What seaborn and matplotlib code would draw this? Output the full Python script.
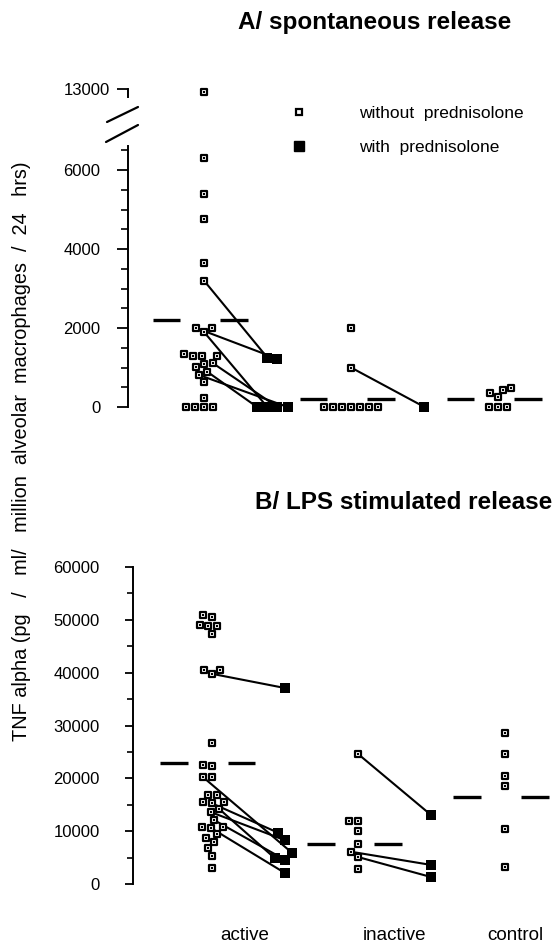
import numpy as np
import pandas as pd
import matplotlib.pyplot as plt
import seaborn as sns
from matplotlib.lines import Line2D
from matplotlib.ticker import MultipleLocator

sns.set_style("ticks")
plt.rcParams["font.family"] = ["Liberation Sans", "DejaVu Sans"]
plt.rcParams["text.color"] = "black"
plt.rcParams["axes.edgecolor"] = "black"

# columns of the dot plot: untreated / with prednisolone per group
columns = ["active", "active_pred", "inactive", "inactive_pred", "control"]
group_labels = ["active", "inactive", "control"]

# A/ spontaneous release
a_active = [12900, 6300, 5400, 4750, 3650, 3200, 2000, 2000, 1900, 1330, 1300, 1300,
            1300, 1110, 1090, 1010, 890, 810, 630, 230, 0, 0, 0, 0]
a_active_pred = [1250, 1220, 0, 0, 0, 0]
a_inactive = [2000, 1000, 0, 0, 0, 0, 0, 0, 0]
a_inactive_pred = [0]
a_control = [250, 350, 430, 480, 0, 0, 0]
a_pairs_active = [(3200, 1250), (2000, 1220), (1900, 0), (1110, 0), (890, 0), (810, 0)]
a_pairs_inactive = [(1000, 0)]
a_means = [2200, 200, 200]

# B/ LPS stimulated release
b_active = [50900, 50600, 49000, 48800, 48800, 47300, 40500, 40500, 39800, 26700, 22500,
            22300, 20300, 20300, 16800, 16800, 15500, 15500, 15300, 14200, 13600, 12100,
            10800, 10800, 10600, 9500, 8700, 8000, 6800, 5300, 3000]
b_active_pred = [37100, 9700, 8300, 5900, 4900, 4600, 2100]
b_inactive = [24600, 11900, 11900, 10000, 7600, 6100, 5100, 2800]
b_inactive_pred = [13000, 3600, 1300]
b_control = [28600, 24600, 20400, 18500, 10400, 3200]
b_pairs_active = [(39800, 37100), (20300, 5900), (15300, 9700), (14200, 4900),
                  (13600, 8300), (12100, 4600), (10600, 2100)]
b_pairs_inactive = [(24600, 13000), (6100, 3600), (5100, 1300)]
b_means = [22900, 7600, 16500]


def long_df(d):
    rows = [(col, v) for col, vals in d.items() for v in vals]
    return pd.DataFrame(rows, columns=["column", "value"])


a_open = long_df({"active": a_active, "inactive": a_inactive, "control": a_control})
a_filled = long_df({"active_pred": a_active_pred, "inactive_pred": a_inactive_pred})
b_open = long_df({"active": b_active, "inactive": b_inactive, "control": b_control})
b_filled = long_df({"active_pred": b_active_pred, "inactive_pred": b_inactive_pred})

W, H = 559, 943
fig = plt.figure(figsize=(W / 100, H / 100), dpi=100)


def rect(left, top, right, bottom):
    return [left / W, 1 - bottom / H, (right - left) / W, (bottom - top) / H]


ax_top = fig.add_axes(rect(128, 80, 555, 102))
ax_a = fig.add_axes(rect(128, 146.3, 555, 420))
ax_b = fig.add_axes(rect(133, 567, 555, 895))

open_kw = dict(x="column", y="value", order=columns, color="white", edgecolor="black",
               linewidth=1.6, marker="s", size=4.5, zorder=3, warn_thresh=1)
filled_kw = dict(x="column", y="value", order=columns, color="black", linewidth=0,
                 marker="s", size=7, zorder=3, warn_thresh=1)


def draw_points(ax, df_open, df_filled, xlim, ylim):
    sns.swarmplot(data=df_open, ax=ax, **open_kw)
    if df_filled is not None:
        sns.swarmplot(data=df_filled, ax=ax, **filled_kw)
    ax.set_xlim(*xlim)
    ax.set_ylim(*ylim)
    ax.set_xlabel("")
    ax.set_ylabel("")
    for s in ["top", "right", "bottom"]:
        ax.spines[s].set_visible(False)
    ax.spines["left"].set_linewidth(1.4)
    ax.tick_params(axis="x", length=0)
    ax.set_xticks([])


draw_points(ax_a, a_open, a_filled, (-1.034, 4.776), (-329, 6600))
draw_points(ax_top, a_open[a_open["value"] > 6600], None, (-1.034, 4.776), (12512.5, 13337.5))
draw_points(ax_b, b_open, b_filled, (-1.071, 4.686), (-2082, 60000))

# y axes
ax_a.spines["left"].set_bounds(0, 6600)
ax_a.yaxis.set_major_locator(MultipleLocator(2000))
ax_a.yaxis.set_minor_locator(MultipleLocator(500))
ax_a.tick_params(axis="y", which="major", length=8, width=1.3, pad=12, labelsize=12, colors="black")
ax_a.tick_params(axis="y", which="minor", length=5, width=1.2, colors="black")

ax_top.spines["left"].set_bounds(12700, 13000)
ax_top.set_yticks([13000])
ax_top.tick_params(axis="y", length=8, width=1.3, pad=5, labelsize=12, colors="black")

ax_b.spines["left"].set_bounds(0, 60000)
ax_b.yaxis.set_major_locator(MultipleLocator(10000))
ax_b.yaxis.set_minor_locator(MultipleLocator(5000))
ax_b.tick_params(axis="y", which="major", length=6, width=1.3, pad=18, labelsize=12, colors="black")
ax_b.tick_params(axis="y", which="minor", length=4, width=1.2, colors="black")
ax_b.set_yticks(np.arange(0, 60001, 10000))
ax_b.set_ylim(-2082, 60000)

ax_b.set_xticks([0.45, 2.5, 4.15], group_labels)
ax_b.tick_params(axis="x", length=0, pad=23, labelsize=13.5, colors="black")

fig.canvas.draw()


def find_point(ax, col, val, used):
    for i, coll in enumerate(ax.collections):
        offs = np.asarray(coll.get_offsets())
        for j, (x, y) in enumerate(offs):
            if (i, j) not in used and abs(y - val) < 1e-6 and abs(x - col) < 0.5:
                used.add((i, j))
                return x, y
    return None


def finish(ax, pairs_by_group, means):
    used = set()
    for (c_open, c_pred), pairs in pairs_by_group:
        for before, after in pairs:
            p0 = find_point(ax, c_open, before, used)
            p1 = find_point(ax, c_pred, after, used)
            ax.plot([p0[0], p1[0]], [p0[1], p1[1]], color="black", lw=1.5, zorder=2)
    # mean bars either side of the untreated column
    for c, m in zip([0, 2, 4], means):
        ax.hlines(m, c - 0.7, c - 0.32, color="black", lw=2.4, zorder=2)
        ax.hlines(m, c + 0.22, c + 0.6, color="black", lw=2.4, zorder=2)


def add_dots(ax):
    pts = []
    for coll in list(ax.collections):
        fc = coll.get_facecolor()
        if len(fc) and fc[0][0] > 0.9:
            pts.append(np.asarray(coll.get_offsets()))
    if pts:
        pts = np.vstack(pts)
        ax.scatter(pts[:, 0], pts[:, 1], marker="s", s=1.0, color="black", zorder=4, linewidths=0)


finish(ax_a, [((0, 1), a_pairs_active), ((2, 3), a_pairs_inactive)], a_means)
finish(ax_b, [((0, 1), b_pairs_active), ((2, 3), b_pairs_inactive)], b_means)
for ax in [ax_a, ax_top, ax_b]:
    add_dots(ax)

# axis break marks
fig.add_artist(Line2D([107 / W, 138 / W], [1 - 122 / H, 1 - 107 / H], color="black", lw=1.6))
fig.add_artist(Line2D([106 / W, 138 / W], [1 - 142 / H, 1 - 125 / H], color="black", lw=1.6))

handles = [Line2D([], [], marker="s", ls="", mfc="white", mec="black", mew=1.6, ms=4.5),
           Line2D([], [], marker="s", ls="", mfc="black", mec="black", ms=7)]
fig.legend(handles, ["without  prednisolone", "with  prednisolone"], loc="upper left",
           bbox_to_anchor=(290 / W, 1 - 106 / H), frameon=False, fontsize=12.5,
           handlelength=1, handletextpad=3.0, labelspacing=1.1, borderpad=0, borderaxespad=0)

fig.text(375 / W, 1 - 22 / H, "A/ spontaneous release", fontsize=17.5, fontweight="bold",
         ha="center", va="center")
fig.text(404 / W, 1 - 503 / H, "B/ LPS stimulated release", fontsize=17.5, fontweight="bold",
         ha="center", va="center")
fig.text(22 / W, 1 - 451 / H,
         "TNF alpha (pg   /   ml/   million  alveolar  macrophages  /  24   hrs)",
         fontsize=14.3, rotation=90, ha="center", va="center")

fig.savefig("out.png", dpi=100)
